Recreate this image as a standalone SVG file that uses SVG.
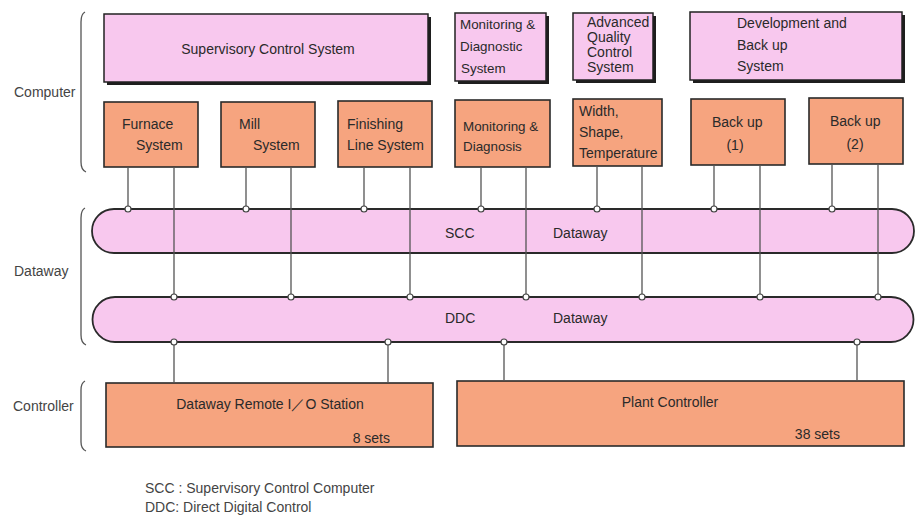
<svg xmlns="http://www.w3.org/2000/svg" width="921" height="515" viewBox="0 0 921 515">
<style>
text{font-family:"Liberation Sans",Arial,sans-serif;fill:#2a2a2a;font-size:14px}
.pk{fill:#f8c8ee;stroke:#222;stroke-width:1.5}
.sh{fill:#1e1e1e}
.or{fill:#f6a47f;stroke:#2a2a2a;stroke-width:1.6}
.ln{stroke:#555;stroke-width:1.3;fill:none}
.dot{fill:#fff;stroke:#444;stroke-width:1.2}
.br{fill:none;stroke:#555;stroke-width:1.3}
.band{fill:#f8c8ee;stroke:#2a2a2a;stroke-width:1.8}
.m{text-anchor:middle}
.lbl{font-size:14px;fill:#444}
.sm{font-size:13.4px}
</style>
<rect width="921" height="515" fill="#fff"/>

<!-- side labels and braces -->
<g id="side-labels">
<text class="lbl" x="14" y="97">Computer</text>
<text class="lbl" x="14" y="276">Dataway</text>
<text class="lbl" x="13" y="411">Controller</text>
<path class="br" d="M85 12 Q81 14 81 22 V162 Q81 170 86 172"/>
<path class="br" d="M85 208 Q81 210 81 218 V335 Q81 343 86 345"/>
<path class="br" d="M85 381 Q81 383 81 390 V442 Q81 449 86 451"/>
</g>

<!-- dataway bands -->
<g id="scc-dataway">
<path class="band" d="M114 209 H892 A22 22 0 0 1 892 253 H114 A22 22 0 0 1 114 209 Z"/>
<text x="445" y="238">SCC</text>
<text x="553" y="238">Dataway</text>
</g>
<g id="ddc-dataway">
<path class="band" d="M115 297 H891 A22.5 22.5 0 0 1 891 342 H115 A22.5 22.5 0 0 1 115 297 Z"/>
<text x="445" y="323">DDC</text>
<text x="553" y="323">Dataway</text>
</g>

<!-- upper computer systems -->
<g id="supervisory">
<rect class="sh" x="107" y="17" width="324" height="68"/>
<rect class="pk" x="104" y="14" width="324" height="68"/>
<text class="m" x="268" y="54">Supervisory Control System</text>
</g>
<g id="monitoring-diag-system">
<rect class="sh" x="458" y="16" width="91" height="68"/>
<rect class="pk" x="455" y="13" width="91" height="68"/>
<text class="sm" x="460" y="29">Monitoring &amp;</text>
<text class="sm" x="460" y="51">Diagnostic</text>
<text class="sm" x="461" y="73">System</text>
</g>
<g id="aqc-system">
<rect class="sh" x="576" y="16" width="80" height="67"/>
<rect class="pk" x="573" y="13" width="80" height="67"/>
<text x="587" y="27">Advanced</text>
<text x="587" y="42">Quality</text>
<text x="587" y="57">Control</text>
<text x="587" y="72">System</text>
</g>
<g id="dev-backup-system">
<rect class="sh" x="693" y="15" width="212" height="68"/>
<rect class="pk" x="690" y="12" width="212" height="68"/>
<text x="737" y="28">Development and</text>
<text x="737" y="50">Back up</text>
<text x="737" y="71">System</text>
</g>

<!-- lower computer nodes -->
<g id="furnace">
<rect class="or" x="104" y="102" width="94" height="65"/>
<text x="122" y="129">Furnace</text>
<text x="136" y="150">System</text>
</g>
<g id="mill">
<rect class="or" x="221" y="102" width="94" height="65"/>
<text x="239" y="129">Mill</text>
<text x="253" y="150">System</text>
</g>
<g id="finishing">
<rect class="or" x="338" y="101" width="94" height="66"/>
<text x="347" y="129">Finishing</text>
<text x="347" y="150">Line System</text>
</g>
<g id="monitoring-diagnosis">
<rect class="or" x="455" y="100" width="95" height="67"/>
<text class="sm" x="463" y="131">Monitoring &amp;</text>
<text class="sm" x="463" y="151">Diagnosis</text>
</g>
<g id="width-shape-temp">
<rect class="or" x="573" y="99" width="89" height="67"/>
<text x="579" y="116">Width,</text>
<text x="579" y="137">Shape,</text>
<text x="579" y="158">Temperature</text>
</g>
<g id="backup1">
<rect class="or" x="691" y="99" width="94" height="66"/>
<text x="712" y="127">Back up</text>
<text class="m" x="735" y="150">(1)</text>
</g>
<g id="backup2">
<rect class="or" x="809" y="98" width="94" height="66"/>
<text x="830" y="126">Back up</text>
<text class="m" x="855" y="149">(2)</text>
</g>

<!-- controllers -->
<g id="remote-io">
<rect class="or" x="106" y="383" width="327" height="64"/>
<text class="m" x="270" y="409">Dataway Remote I／O Station</text>
<text x="390" y="443" text-anchor="end">8 sets</text>
</g>
<g id="plant-controller">
<rect class="or" x="457" y="381" width="447" height="65"/>
<text class="m" x="670" y="407">Plant Controller</text>
<text x="840" y="439" text-anchor="end">38 sets</text>
</g>

<!-- connectors -->
<g id="connectors">
<path class="ln" d="M128 167V209 M246 167V209 M364 167V209 M481 167V209 M597 166V209 M714 165V209 M832 164V209"/>
<path class="ln" d="M174 167V297 M291 167V297 M410 167V297 M526 167V297 M642 166V297 M760 165V297 M878 164V297"/>
<path class="ln" d="M174 342V383 M388 342V383 M504 342V381 M857 342V381"/>
<g class="dot">
<circle cx="128" cy="209" r="3"/><circle cx="246" cy="209" r="3"/><circle cx="364" cy="209" r="3"/><circle cx="481" cy="209" r="3"/><circle cx="597" cy="209" r="3"/><circle cx="714" cy="209" r="3"/><circle cx="832" cy="209" r="3"/>
<circle cx="174" cy="297" r="3"/><circle cx="291" cy="297" r="3"/><circle cx="410" cy="297" r="3"/><circle cx="526" cy="297" r="3"/><circle cx="642" cy="297" r="3"/><circle cx="760" cy="297" r="3"/><circle cx="878" cy="297" r="3"/>
<circle cx="174" cy="342" r="3"/><circle cx="388" cy="342" r="3"/><circle cx="504" cy="342" r="3"/><circle cx="857" cy="342" r="3"/>
</g>
</g>

<!-- legend -->
<g id="legend">
<text class="lbl" x="145" y="493">SCC : Supervisory Control Computer</text>
<text class="lbl" x="145" y="512">DDC: Direct Digital Control</text>
</g>
</svg>
